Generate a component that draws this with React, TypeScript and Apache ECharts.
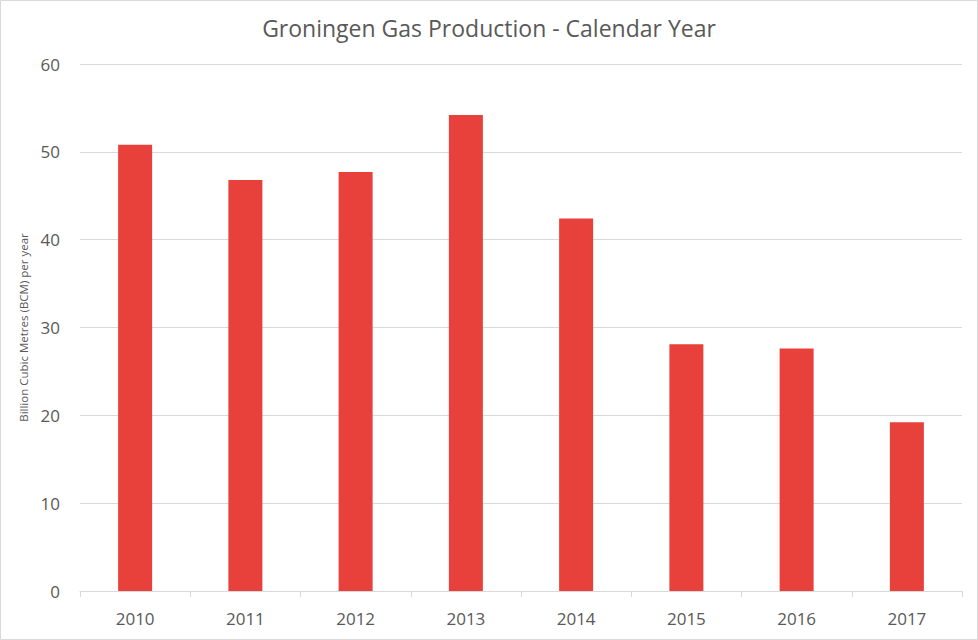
import React, { useEffect, useRef } from "react";
import * as echarts from "echarts";

const years = ["2010", "2011", "2012", "2013", "2014", "2015", "2016", "2017"];
const production = [50.8, 46.8, 47.7, 54.2, 42.4, 28.1, 27.6, 19.2];
const titleText = "Groningen Gas Production - Calendar Year";
const yAxisName = "Billion Cubic Metres (BCM) per year";

export default function App() {
  const ref = useRef<HTMLDivElement>(null);
  useEffect(() => {
    if (!ref.current) return;
    const chart = echarts.init(ref.current, null, { renderer: "svg" });
    const font = "'Open Sans', 'Liberation Sans', sans-serif";
    chart.setOption({
      animation: false,
      backgroundColor: "#ffffff",
      title: {
        text: titleText,
        left: "center",
        top: 11,
        textStyle: { fontFamily: font, fontSize: 23, fontWeight: "normal", color: "#595959" },
      },
      grid: { left: 80, right: 16, top: 64, bottom: 49 },
      xAxis: {
        type: "category",
        data: years,
        axisLine: { lineStyle: { color: "#d9d9d9", width: 1 } },
        axisTick: { show: true, length: 6, lineStyle: { color: "#d9d9d9" }, alignWithLabel: false },
        axisLabel: { fontFamily: font, fontSize: 17, color: "#595959", margin: 19 },
      },
      yAxis: {
        type: "value",
        min: 0,
        max: 60,
        interval: 10,
        name: yAxisName,
        nameLocation: "middle",
        nameGap: 47,
        nameTextStyle: { fontFamily: font, fontSize: 11.5, color: "#595959" },
        axisLine: { show: false },
        axisTick: { show: false },
        splitLine: { lineStyle: { color: "#d9d9d9", width: 1 } },
        axisLabel: { fontFamily: font, fontSize: 17, color: "#595959", margin: 20 },
      },
      series: [
        {
          type: "bar",
          data: production,
          barWidth: 34,
          itemStyle: { color: "#E8403A" },
        },
      ],
      graphic: [
        {
          type: "rect",
          shape: { x: 0.5, y: 0.5, width: 977, height: 639 },
          style: { fill: "none", stroke: "#d9d9d9", lineWidth: 1 },
          silent: true,
        },
      ],
    });
    return () => chart.dispose();
  }, []);
  return (
    <div
      ref={ref}
      style={{ position: "fixed", left: 0, top: 0, width: 978, height: 640 }}
    />
  );
}
